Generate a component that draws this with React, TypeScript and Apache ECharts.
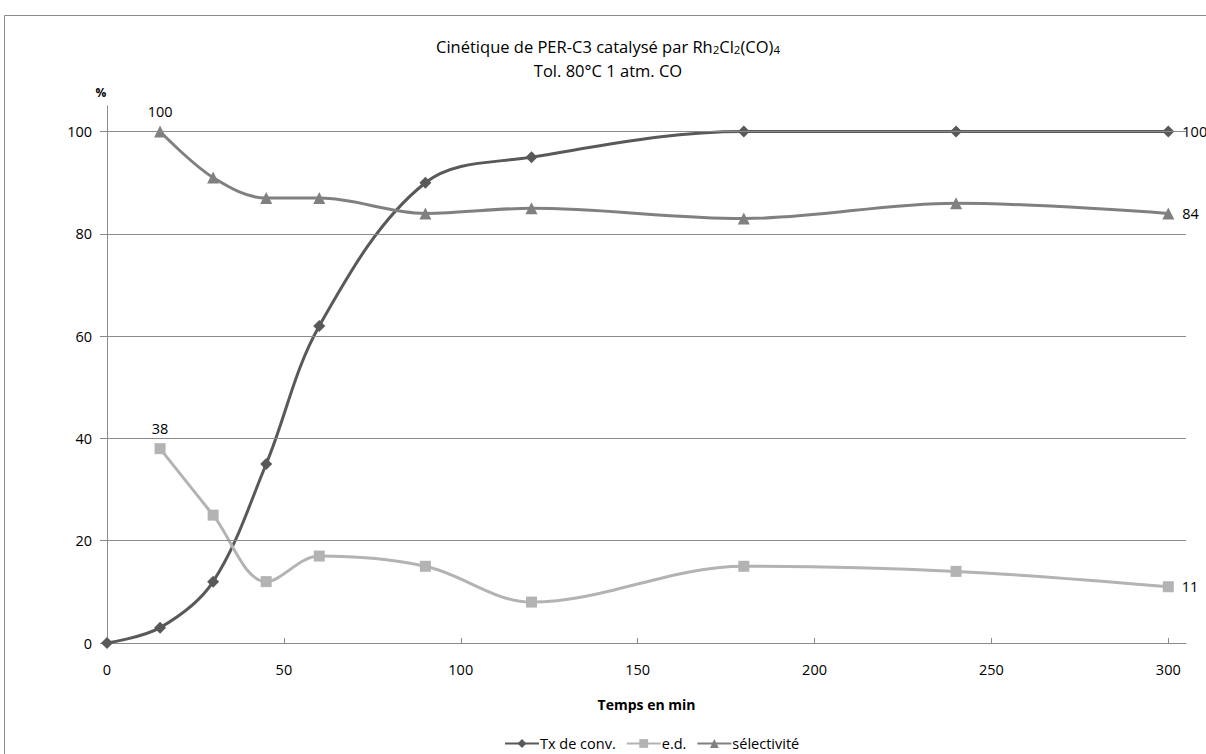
import React, { useEffect, useRef } from "react";
import * as echarts from "echarts";

const xTicks = [0, 50, 100, 150, 200, 250, 300];
const yTicks = [0, 20, 40, 60, 80, 100];
const yGrid = [20, 40, 60, 80, 100];

const convX = [0, 15, 30, 45, 60, 90, 120, 180, 240, 300];
const convY = [0, 3, 12, 35, 62, 90, 95, 100, 100, 100];
const edX = [15, 30, 45, 60, 90, 120, 180, 240, 300];
const edY = [38, 25, 12, 17, 15, 8, 15, 14, 11];
const selX = [15, 30, 45, 60, 90, 120, 180, 240, 300];
const selY = [100, 91, 87, 87, 84, 85, 83, 86, 84];

const FONT = "Open Sans";
const FS = 14.5;

function labelled(xs: number[], ys: number[], first: boolean) {
  return xs.map((x, i) => {
    const item: any = { value: [x, ys[i]] };
    if (i === xs.length - 1) {
      item.label = { show: true, position: "right", distance: 8 };
    } else if (i === 0 && first) {
      item.label = { show: true, position: "top", distance: 7 };
    }
    return item;
  });
}

export default function App() {
  const ref = useRef<HTMLDivElement>(null);
  useEffect(() => {
    document.body.style.margin = "0";
    const chart = echarts.init(ref.current!, null, { renderer: "svg" });
    const labelStyle = {
      fontFamily: FONT,
      fontSize: FS,
      color: "#000",
      formatter: (p: any) => String(p.value[1]),
    };
    const option: any = {
      animation: false,
      backgroundColor: "#fff",
      textStyle: { fontFamily: FONT },
      graphic: [
        {
          type: "rect",
          shape: { x: 4.5, y: 15.5, width: 1220, height: 780 },
          style: { fill: "none", stroke: "#8a8a8a", lineWidth: 1 },
          silent: true,
        },
        {
          type: "text",
          x: 608,
          y: 46,
          style: {
            text: "{t|Cinétique de PER-C3 catalysé par Rh}{s|2}{t|Cl}{s|2}{t|(CO)}{s|4}",
            align: "center",
            verticalAlign: "middle",
            rich: {
              t: { fontFamily: FONT, fontSize: 16.5, lineHeight: 18, fill: "#000" },
              s: { fontFamily: FONT, fontSize: 11.5, lineHeight: 12, fill: "#000", padding: [6, 0, 0, 0] },
            },
          },
        },
        {
          type: "text",
          x: 608,
          y: 70,
          style: {
            text: "Tol. 80°C 1 atm. CO",
            align: "center",
            verticalAlign: "middle",
            fontFamily: FONT,
            fontSize: 16.5,
            lineHeight: 18,
            fill: "#000",
          },
        },
        {
          type: "text",
          x: 101,
          y: 92,
          style: {
            text: "%",
            align: "center",
            verticalAlign: "middle",
            fontFamily: FONT,
            fontSize: 12,
            fontWeight: "bold",
            fill: "#000",
          },
        },
      ],
      grid: { left: 107, right: 20, top: 106, bottom: 111, containLabel: false },
      xAxis: {
        type: "value",
        min: 0,
        max: 305,
        interval: 50,
        name: "Temps en min",
        nameLocation: "middle",
        nameGap: 54,
        nameTextStyle: { fontFamily: FONT, fontSize: 14, fontWeight: "bold", color: "#000" },
        axisLine: { show: true, lineStyle: { color: "#8a8a8a", width: 1 } },
        axisTick: { show: true, inside: true, length: 5, customValues: xTicks, lineStyle: { color: "#8a8a8a" } },
        axisLabel: { customValues: xTicks, margin: 19, fontFamily: FONT, fontSize: FS, color: "#000" },
        splitLine: { show: false },
      },
      yAxis: {
        type: "value",
        min: 0,
        max: 105,
        interval: 20,
        axisLine: { show: true, lineStyle: { color: "#8a8a8a", width: 1 } },
        axisTick: { show: true, inside: false, length: 7, customValues: yTicks, lineStyle: { color: "#8a8a8a" } },
        axisLabel: { customValues: yTicks, margin: 15, fontFamily: FONT, fontSize: FS, color: "#000" },
        splitLine: { show: false },
      },
      legend: {
        top: 731,
        left: 499,
        itemWidth: 34,
        itemHeight: 11,
        itemGap: 10,
        data: ["Tx de conv.", "e.d.", "sélectivité"],
        textStyle: { fontFamily: FONT, fontSize: FS, color: "#000", padding: [0, 0, 0, -4] },
      },
      series: [
        {
          name: "grid",
          type: "line",
          data: [],
          z: 1,
          silent: true,
          markLine: {
            silent: true,
            symbol: "none",
            label: { show: false },
            lineStyle: { color: "#8a8a8a", width: 1, type: "solid" },
            data: yGrid.map((v) => ({ yAxis: v })),
          },
        },
        {
          name: "Tx de conv.",
          type: "line",
          z: 3,
          smooth: 0.35,
          data: labelled(convX, convY, false),
          symbol: "diamond",
          symbolSize: 12,
          itemStyle: { color: "#595959" },
          lineStyle: { color: "#595959", width: 3 },
          label: labelStyle,
        },
        {
          name: "e.d.",
          type: "line",
          z: 3,
          smooth: 0.35,
          data: labelled(edX, edY, true),
          symbol: "rect",
          symbolSize: 11,
          itemStyle: { color: "#b3b3b3" },
          lineStyle: { color: "#b3b3b3", width: 3 },
          label: labelStyle,
        },
        {
          name: "sélectivité",
          type: "line",
          z: 3,
          smooth: 0.35,
          data: labelled(selX, selY, true),
          symbol: "triangle",
          symbolSize: 12,
          itemStyle: { color: "#808080" },
          lineStyle: { color: "#808080", width: 3 },
          label: labelStyle,
        },
      ],
    };
    chart.setOption(option);
    return () => chart.dispose();
  }, []);
  return <div ref={ref} style={{ width: 1206, height: 754 }} />;
}
